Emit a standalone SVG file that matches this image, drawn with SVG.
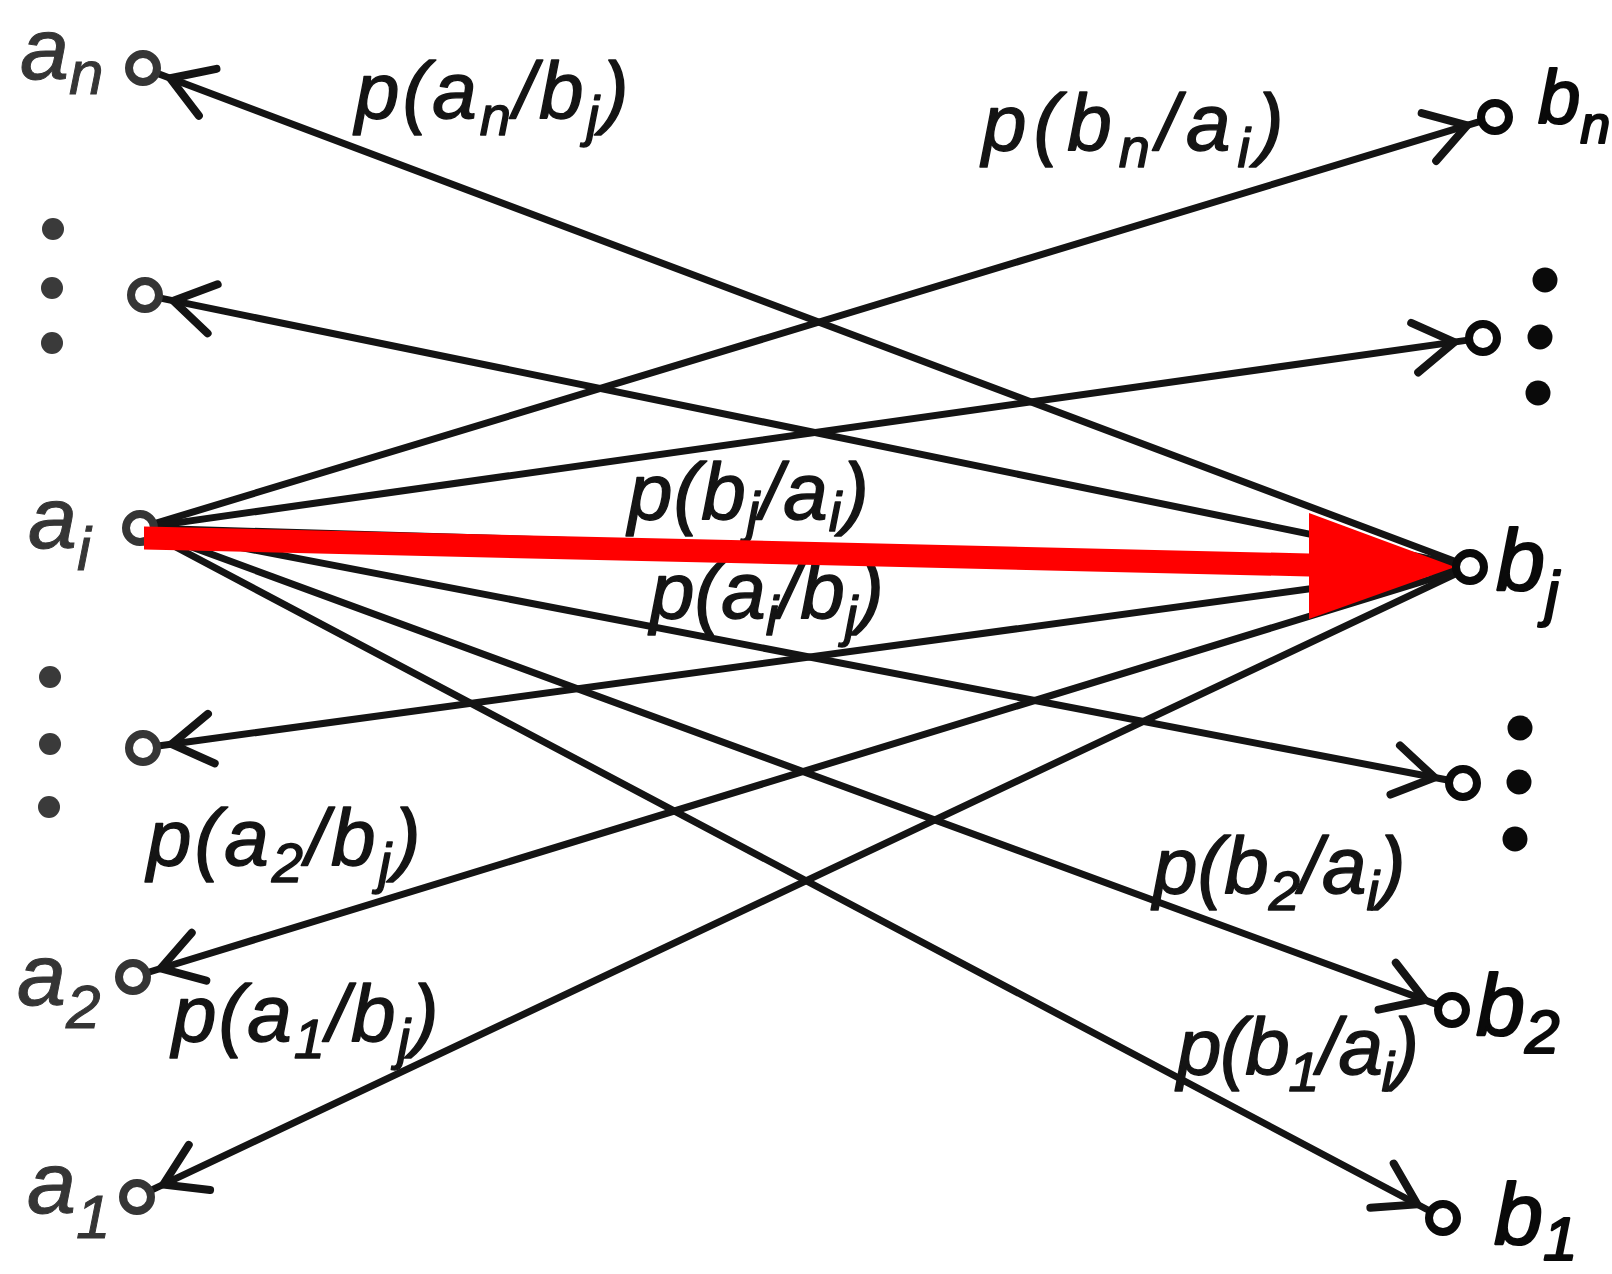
<svg xmlns="http://www.w3.org/2000/svg" width="1612" height="1274" viewBox="0 0 1612 1274">
<defs>
<style>
.bg{fill:#ffffff}
.edge{stroke:#141414;stroke-width:7;fill:none;stroke-linecap:round}
.nd{fill:#ffffff;stroke-width:8}
.ndL{stroke:#353535}
.ndR{stroke:#0a0a0a}
.dotL{fill:#3a3a3a}
.dotR{fill:#0a0a0a}
.lbl{font-family:"Liberation Sans",Arial,sans-serif;font-style:italic;font-size:80px;fill:#141414;stroke:#141414;stroke-width:1.4;stroke-linejoin:round}
.nl{font-family:"Liberation Sans",Arial,sans-serif;font-style:italic;font-size:88px}
.nlL{fill:#353535;stroke:#353535;stroke-width:1}
.nlR{fill:#0a0a0a;stroke:#0a0a0a;stroke-width:2.2;stroke-linejoin:round}
.sub{font-size:56px}
.nsub{font-size:62px}
.red{fill:#ff0000}
</style>
<marker id="ah" markerUnits="userSpaceOnUse" orient="auto" markerWidth="90" markerHeight="90" viewBox="-70 -45 90 90" refX="0" refY="0" overflow="visible">
<path d="M-52,-25 L-12,0 L-52,25" fill="none" stroke="#141414" stroke-width="8" stroke-linecap="round" stroke-linejoin="round"/>
</marker>
</defs>
<rect class="bg" x="0" y="0" width="1612" height="1274"/>

<g id="connectors">
<line id="e-ai-bn" class="edge" x1="156.3" y1="523.1" x2="1478.7" y2="121.9" marker-end="url(#ah)"/>
<line id="e-ai-r2" class="edge" x1="156.8" y1="525.6" x2="1466.2" y2="340.4" marker-end="url(#ah)"/>
<line id="e-ai-bj" class="edge" x1="157" y1="528.5" x2="1453" y2="566.5"/>
<line id="e-ai-r4" class="edge" x1="156.7" y1="531.2" x2="1446.3" y2="779.8" marker-end="url(#ah)"/>
<line id="e-ai-b2" class="edge" x1="156" y1="533.9" x2="1436" y2="1004.1" marker-end="url(#ah)"/>
<line id="e-ai-b1" class="edge" x1="155" y1="536" x2="1428" y2="1210" marker-end="url(#ah)"/>
<line id="e-bj-an" class="edge" x1="1454.1" y1="561" x2="159" y2="74" marker-end="url(#ah)"/>
<line id="e-bj-l2" class="edge" x1="1453.3" y1="563.6" x2="161.7" y2="298.4" marker-end="url(#ah)"/>
<line id="e-bj-l4" class="edge" x1="1453.2" y1="569.3" x2="159.8" y2="745.7" marker-end="url(#ah)"/>
<line id="e-bj-a2" class="edge" x1="1453.7" y1="572" x2="149.3" y2="972" marker-end="url(#ah)"/>
<line id="e-bj-a1" class="edge" x1="1454.6" y1="574.3" x2="152.4" y2="1189.7" marker-end="url(#ah)"/>
</g>

<g id="edge-labels">
<text class="lbl" x="355" y="118" letter-spacing="3">p(a<tspan class="sub" dy="17">n</tspan><tspan dy="-17">/b</tspan><tspan class="sub" dy="17">j</tspan><tspan dy="-17">)</tspan></text>
<text class="lbl" x="982" y="150" letter-spacing="7">p(b<tspan class="sub" dy="17">n</tspan><tspan dy="-17">/a</tspan><tspan class="sub" dy="17">i</tspan><tspan dy="-17">)</tspan></text>
<text class="lbl" x="628" y="519" letter-spacing="1">p(b<tspan class="sub" dy="12">j</tspan><tspan dy="-12">/a</tspan><tspan class="sub" dy="12">i</tspan><tspan dy="-12">)</tspan></text>
<text class="lbl" x="650" y="618">p(a<tspan class="sub" dy="17">i</tspan><tspan dy="-17">/b</tspan><tspan class="sub" dy="17">j</tspan><tspan dy="-17">)</tspan></text>
<text class="lbl" x="147" y="865" letter-spacing="3">p(a<tspan class="sub" dy="17">2</tspan><tspan dy="-17">/b</tspan><tspan class="sub" dy="17">j</tspan><tspan dy="-17">)</tspan></text>
<text class="lbl" x="172" y="1041" letter-spacing="2">p(a<tspan class="sub" dy="17">1</tspan><tspan dy="-17">/b</tspan><tspan class="sub" dy="17">j</tspan><tspan dy="-17">)</tspan></text>
<text class="lbl" x="1153" y="893">p(b<tspan class="sub" dy="17">2</tspan><tspan dy="-17">/a</tspan><tspan class="sub" dy="17">i</tspan><tspan dy="-17">)</tspan></text>
<text class="lbl" x="1177" y="1074" letter-spacing="-1.5">p(b<tspan class="sub" dy="17">1</tspan><tspan dy="-17">/a</tspan><tspan class="sub" dy="17">i</tspan><tspan dy="-17">)</tspan></text>
</g>

<g id="dots">
<circle class="dotL" cx="53" cy="229" r="11"/>
<circle class="dotL" cx="52" cy="288" r="11"/>
<circle class="dotL" cx="52" cy="343" r="11"/>
<circle class="dotL" cx="50" cy="677" r="11"/>
<circle class="dotL" cx="50" cy="744" r="11"/>
<circle class="dotL" cx="49" cy="807" r="11"/>
<circle class="dotR" cx="1545" cy="280" r="12.5"/>
<circle class="dotR" cx="1540" cy="337" r="12.5"/>
<circle class="dotR" cx="1538" cy="393" r="12.5"/>
<circle class="dotR" cx="1520" cy="728" r="12.5"/>
<circle class="dotR" cx="1519" cy="782" r="12.5"/>
<circle class="dotR" cx="1515" cy="839" r="12.5"/>
</g>

<g id="node-an"><circle class="nd ndL" cx="143" cy="68" r="14"/><text class="nl nlL" x="20" y="79">a<tspan class="nsub" dy="15">n</tspan></text></g>
<g id="node-l2"><circle class="nd ndL" cx="145" cy="295" r="14"/></g>
<g id="node-ai"><circle class="nd ndL" cx="140" cy="528" r="14"/><text class="nl nlL" x="28" y="548">a<tspan class="nsub" dy="22">i</tspan></text></g>
<g id="node-l4"><circle class="nd ndL" cx="143" cy="748" r="14"/></g>
<g id="node-a2"><circle class="nd ndL" cx="133" cy="977" r="14"/><text class="nl nlL" x="17" y="1005">a<tspan class="nsub" dy="23">2</tspan></text></g>
<g id="node-a1"><circle class="nd ndL" cx="137" cy="1197" r="14"/><text class="nl nlL" x="27" y="1213">a<tspan class="nsub" dy="25">1</tspan></text></g>

<g id="node-bn"><circle class="nd ndR" cx="1495" cy="117" r="14"/><text class="nl nlR" x="1538" y="123" style="font-size:76px">b<tspan class="nsub" dy="20" style="font-size:54px">n</tspan></text></g>
<g id="node-r2"><circle class="nd ndR" cx="1483" cy="338" r="14"/></g>
<g id="node-r4"><circle class="nd ndR" cx="1463" cy="783" r="14"/></g>
<g id="node-b2"><circle class="nd ndR" cx="1452" cy="1010" r="14"/><text class="nl nlR" x="1476" y="1035">b<tspan class="nsub" dy="18">2</tspan></text></g>
<g id="node-b1"><circle class="nd ndR" cx="1443" cy="1218" r="14"/><text class="nl nlR" x="1494" y="1244">b<tspan class="nsub" dy="16">1</tspan></text></g>

<g id="highlight">
<polygon class="red" points="144,526.5 1309,553.5 1309,513 1455,567 1309,619 1309,576.5 144,549.5"/>
</g>
<g id="node-bj"><circle class="nd ndR" cx="1470" cy="567" r="14"/><text class="nl nlR" x="1496" y="590">b<tspan class="nsub" dy="24">j</tspan></text></g>
</svg>
